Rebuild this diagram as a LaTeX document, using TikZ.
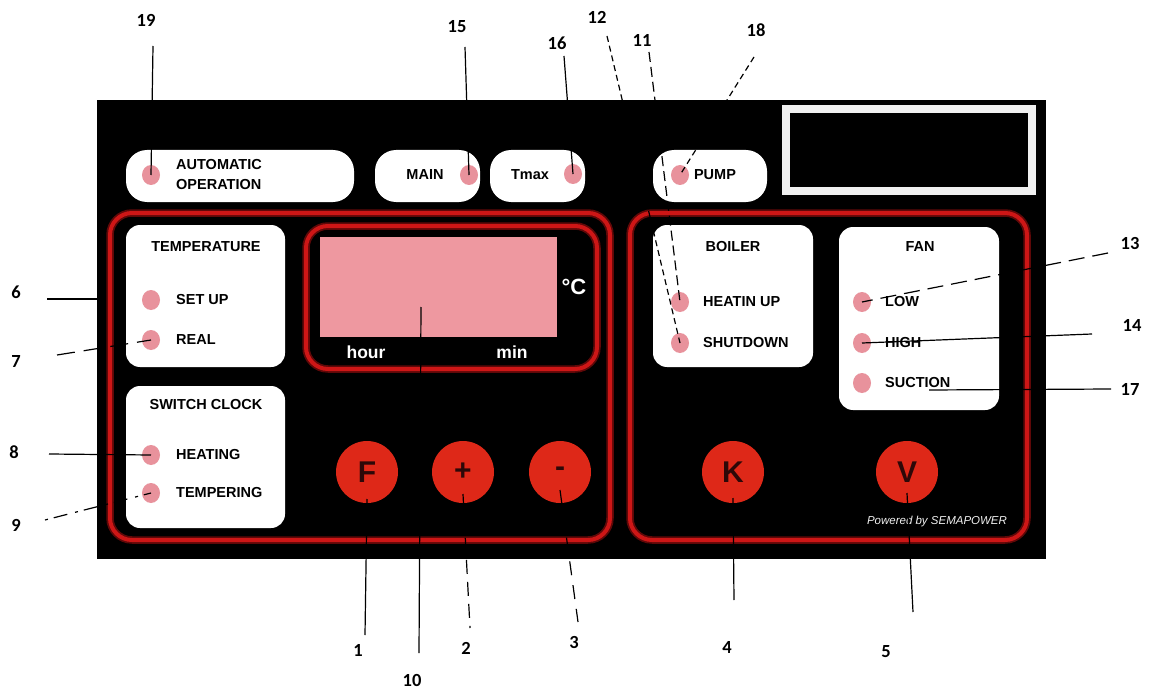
\documentclass[tikz,border=0pt]{standalone}
\usepackage{fontspec}
\usetikzlibrary{shapes.geometric,calc}
\newfontfamily\lsans{Liberation Sans}
\newfontfamily\carl{Carlito}
\definecolor{framered}{RGB}{205,22,22}
\definecolor{framedark}{RGB}{95,8,8}
\definecolor{btnred}{RGB}{222,40,24}
\definecolor{btntext}{RGB}{45,8,8}
\definecolor{ledpink}{RGB}{232,146,156}
\definecolor{dispink}{RGB}{238,152,160}
\definecolor{offwhite}{RGB}{240,240,240}
\newcommand\ptfont{\lsans\bfseries\fontsize{14.5}{20}\selectfont}
\newcommand\btnfont{\lsans\bfseries\fontsize{30}{32}\selectfont}
\newcommand\numfont{\carl\bfseries\fontsize{18.5}{20}\selectfont}
\newcommand\dispfont{\lsans\bfseries\fontsize{17.5}{20}\selectfont}
\begin{document}
\begin{tikzpicture}[x=1pt,y=-1pt,
  wbox/.style={fill=white, rounded corners=14pt, anchor=north west, inner sep=0pt, outer sep=0pt},
  pill/.style={fill=white, rounded corners=21pt, inner sep=0pt, outer sep=0pt, minimum height=52pt},
  redframe/.style={draw=framered, line width=4pt, rounded corners=22pt, preaction={draw=framedark, line width=7.5pt}, anchor=north west, inner sep=0pt, outer sep=0pt},
  led/.style={ellipse, fill=ledpink, minimum width=18pt, minimum height=20pt, inner sep=0pt},
  btn/.style={circle, fill=btnred, minimum size=62pt, inner sep=0pt, font=\btnfont, text=btntext},
  ptxt/.style={font=\ptfont, anchor=west, inner sep=0pt, align=left},
  ttl/.style={font=\ptfont, inner sep=0pt},
  wtxt/.style={font=\dispfont, text=white, inner sep=0pt},
  num/.style={font=\numfont, inner sep=0pt},
  lead/.style={line width=1.2pt, black}
]
\useasboundingbox (0,0) rectangle (1149,690);
% panel
\node[fill=black, minimum width=949pt, minimum height=459pt, anchor=north west, inner sep=0pt, outer sep=0pt] (panel) at (97,100) {};
\node[draw=offwhite, line width=8pt, fill=black, minimum width=246pt, minimum height=82pt, anchor=north west, inner sep=0pt, outer sep=0pt] (screen) at (786,109) {};
% pills
\node[pill, minimum width=228pt] (pauto) at (240,176) {};
\node[pill, minimum width=105pt] (pmain) at (427.5,176) {};
\node[pill, minimum width=95pt] (ptmax) at (537.5,176) {};
\node[pill, minimum width=114pt] (ppump) at (710,176) {};
% frames
\node[redframe, minimum width=500pt, minimum height=327pt] (lframe) at (110,213) {};
\node[redframe, minimum width=397pt, minimum height=327pt] (rframe) at (630,213) {};
\node[redframe, minimum width=291pt, minimum height=143pt] (dframe) at (306,226) {};
\node[fill=dispink, minimum width=237pt, minimum height=100pt, anchor=north west, inner sep=0pt, outer sep=0pt] (disp) at (320,237) {};
% white boxes
\node[wbox, minimum width=159pt, minimum height=142pt] (temp) at (126,225) {};
\node[wbox, minimum width=159pt, minimum height=142pt] (swc) at (126,386) {};
\node[wbox, minimum width=160pt, minimum height=142pt] (boiler) at (653,225) {};
\node[wbox, minimum width=160pt, minimum height=183pt] (fan) at (839,227) {};
% LEDs
\node[led] (led19) at (151,175) {};
\node[led] (ledmain) at (469,175) {};
\node[led] (ledtmax) at (573,174) {};
\node[led] (ledpump) at (680,175) {};
\node[led] (ledsetup) at (151,300) {};
\node[led] (ledreal) at (151,340) {};
\node[led] (ledheat) at (151,455) {};
\node[led] (ledtemp) at (151,493) {};
\node[led] (ledhu) at (680,302) {};
\node[led] (ledsd) at (680,343) {};
\node[led] (ledlow) at (862,302) {};
\node[led] (ledhigh) at (862,343) {};
\node[led] (ledsuc) at (862,383) {};
% buttons
\node[btn] (bF) at (367,472) {F};
\node[btn] (bplus) at (463,472) {+};
\node[btn] (bminus) at (560,472) {-};
\node[btn] (bK) at (733,472) {K};
\node[btn] (bV) at (907,472) {V};
% texts
\node[ptxt] (tauto) at (176,175) {AUTOMATIC\\OPERATION};
\node[ttl] (tmain) at (425,175) {MAIN};
\node[ttl] (ttmax) at (530,175) {Tmax};
\node[ttl] (tpump) at (715,175) {PUMP};
\node[ttl] (ttemp) at (206,247) {TEMPERATURE};
\node[ptxt] (tsetup) at (176,300) {SET UP};
\node[ptxt] (treal) at (176,340) {REAL};
\node[ttl] (tswc) at (206,405) {SWITCH CLOCK};
\node[ptxt] (theat) at (176,455) {HEATING};
\node[ptxt] (ttemper) at (176,493) {TEMPERING};
\node[ttl] (tboiler) at (733,247) {BOILER};
\node[ptxt] (thu) at (703,302) {HEATIN UP};
\node[ptxt] (tsd) at (703,343) {SHUTDOWN};
\node[ttl] (tfan) at (920,247) {FAN};
\node[ptxt] (tlow) at (885,302) {LOW};
\node[ptxt] (thigh) at (885,343) {HIGH};
\node[ptxt] (tsuc) at (885,383) {SUCTION};
\node[wtxt] (thour) at (366,352) {hour};
\node[wtxt] (tmin) at (512,352) {min};
\node[wtxt, font=\lsans\bfseries\fontsize{22}{24}\selectfont] (tdeg) at (574,287) {°C};
\node[text=offwhite, inner sep=0pt, font=\lsans\itshape\fontsize{11.5}{13}\selectfont] (tpow) at (937,522) {Powered by SEMAPOWER};
% numbers
\node[num] (n19) at (146,20) {19};
\node[num] (n15) at (457,27) {15};
\node[num] (n16) at (557,43) {16};
\node[num] (n12) at (597,17) {12};
\node[num] (n11) at (642,40) {11};
\node[num] (n18) at (756,30) {18};
\node[num] (n13) at (1130,243) {13};
\node[num] (n14) at (1132,325) {14};
\node[num] (n17) at (1130,389) {17};
\node[num] (n6) at (16,292) {6};
\node[num] (n7) at (16,362) {7};
\node[num] (n8) at (14,452) {8};
\node[num] (n9) at (16,525) {9};
\node[num] (n10) at (412,680) {10};
\node[num] (n1) at (358,650) {1};
\node[num] (n2) at (466,648) {2};
\node[num] (n3) at (574,642) {3};
\node[num] (n4) at (727,647) {4};
\node[num] (n5) at (886,652) {5};
% lead coordinates
\coordinate (s19) at (153,46);
\coordinate (s15) at (465,47);
\coordinate (s16) at (564,56);
\coordinate (s12) at (607,36);
\coordinate (s11) at (649,52);
\coordinate (s18) at (754,57);
\coordinate (s13) at (1108,253);
\coordinate (s14) at (1092,334);
\coordinate (s17) at (1111,389);
\coordinate (e17) at (929,390);
\coordinate (s6) at (47,299);
\coordinate (e6) at (99,299);
\coordinate (s7) at (57,355);
\coordinate (s8) at (49,454);
\coordinate (s9) at (45,520);
\coordinate (s10) at (421,307);
\coordinate (e10) at (419,653);
\coordinate (e1) at (365,635);
\coordinate (e2) at (470,628);
\coordinate (e3) at (578,622);
\coordinate (e4) at (734,600);
\coordinate (e5) at (913,612);
% leads
\draw[lead] (s19) -- (led19.center);
\draw[lead] (s15) -- (ledmain.center);
\draw[lead] (s16) -- (ledtmax.center);
\draw[lead, dash pattern=on 6pt off 4pt] (s12) -- (ledsd.center);
\draw[lead, dash pattern=on 10pt off 5pt] (s11) -- (ledhu.center);
\draw[lead, dash pattern=on 6pt off 4pt] (s18) -- (ledpump.center);
\draw[lead, dash pattern=on 16pt off 8pt] (s13) -- (ledlow.center);
\draw[lead] (s14) -- (ledhigh.center);
\draw[lead] (s17) -- (e17);
\draw[lead] (s6) -- (e6);
\draw[lead, dash pattern=on 18pt off 9pt] (s7) -- (ledreal.center);
\draw[lead] (s8) -- (ledheat.center);
\draw[lead, dash pattern=on 3pt off 6pt on 14pt off 8pt] (s9) -- (ledtemp.center);
\draw[lead] (s10) -- (e10);
\draw[lead] ($(bF.center)+(0,27)$) -- (e1);
\draw[lead, dash pattern=on 14pt off 8pt] ($(bplus.center)+(0,22)$) -- (e2);
\draw[lead, dash pattern=on 14pt off 10pt] ($(bminus.center)+(0,18)$) -- (e3);
\draw[lead] ($(bK.center)+(0,26)$) -- (e4);
\draw[lead] ($(bV.center)+(0,21)$) -- (e5);
\end{tikzpicture}
\end{document}
